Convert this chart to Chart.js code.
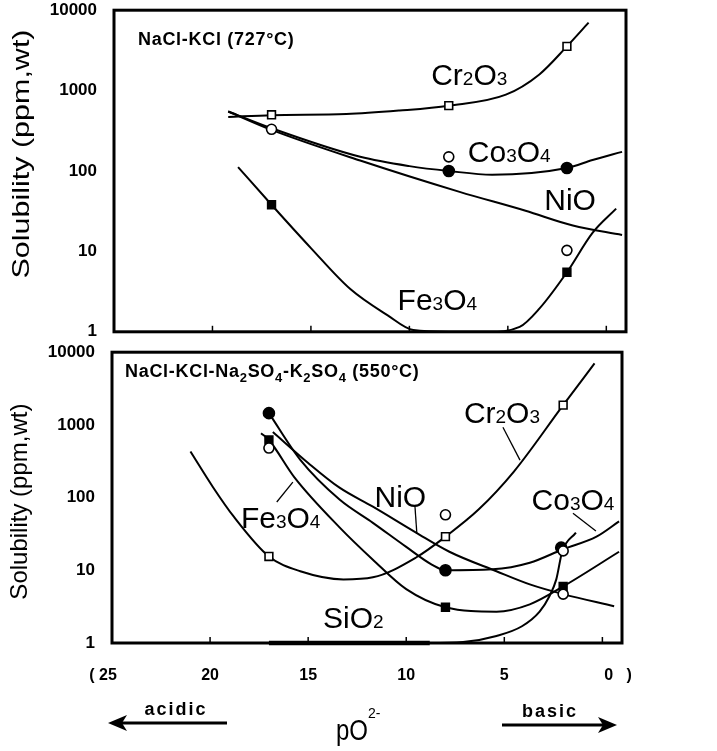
<!DOCTYPE html>
<html>
<head>
<meta charset="utf-8">
<script src="https://cdn.jsdelivr.net/npm/chart.js@4.4.0/dist/chart.umd.min.js"></script>
<style>
  html, body { margin: 0; padding: 0; background: #fff; }
  #wrap { position: relative; width: 717px; height: 751px; overflow: hidden; }
  #wrap canvas { position: absolute; left: 0; }
  #topChart { top: 0; }
  #botChart { top: 342px; }
</style>
</head>
<body>
<div id="wrap">
  <canvas id="topChart" width="717" height="342"></canvas>
  <canvas id="botChart" width="717" height="409"></canvas>
</div>
<script>
// x = pO2-, y = solubility (ppm, wt), log scale
const pOTicks = [25, 20, 15, 10, 5, 0];
const pOTickLabels = ['( 25    ', '20', '15', '10', '5', '       0   )'];
const solTicks = [1, 10, 100, 1000, 10000];

// --- NaCl-KCl (727°C) ---
const topCrX = [19.2, 17, 13.2, 10.5, 8, 5.1, 3.4, 2, 0.9];
const topCrY = [470, 495, 510, 565, 650, 890, 1590, 3550, 7000];
const topCoX = [19.2, 17, 12.5, 10, 8, 5.8, 2, 0.7, -0.8];
const topCoY = [550, 340, 150, 115, 100, 90, 109, 137, 173];
const topNiX = [19.2, 17, 12.5, 7.45, 4.1, 1.7, -0.8];
const topNiY = [550, 325, 135, 55, 32, 21, 16];
const topFeX = [18.7, 17, 15, 13, 11.1, 9.8, 8, 6, 4.4, 3.4, 2, 0.7, -0.5];
const topFeY = [112, 38, 11, 3.4, 1.6, 1.05, 1, 1, 1.15, 1.94, 5.5, 17, 34];
// measured points
const topOpenSqX = [17, 8, 2],  topOpenSqY = [500, 650, 3550];
const topFillCiX = [8, 2],      topFillCiY = [100, 109];
const topOpenCiX = [17, 8, 2],  topOpenCiY = [330, 150, 10.3];
const topFillSqX = [17, 2],     topFillSqY = [38, 5.5];

// --- NaCl-KCl-Na2SO4-K2SO4 (550°C) ---
const botCrX = [21, 19.85, 18.8, 17, 15.4, 13.2, 11.7, 9.5, 8, 6.3, 4.5, 2, 0.4];
const botCrY = [430, 139, 55, 15.5, 9.7, 7.5, 8, 15, 29, 69, 230, 1870, 7000];
const botCoX = [17, 15.4, 13.4, 11.7, 10, 8.7, 8, 5.6, 3.7, 2, 0.3, -0.85];
const botCoY = [1450, 330, 94, 45, 21, 12, 10, 10.3, 12.7, 19.5, 29, 47];
const botNiX = [16.8, 15, 13.4, 11.7, 9.5, 7.8, 5.4, 3.7, 2, -0.6];
const botNiY = [800, 300, 137, 75, 33, 18, 9.7, 6.4, 4.7, 3.2];
const botFeX = [17.4, 17, 15.7, 13.4, 11.7, 10, 8, 5.4, 3.7, 2, -0.85];
const botFeY = [770, 620, 190, 39, 14, 5.5, 3.1, 2.7, 3.4, 6, 18];
const botSiX = [17, 12, 8.8, 7.1, 5.4, 4.1, 3.2, 2.7, 2.35, 2.05, 1.35];
const botSiY = [1, 1, 1, 1.03, 1.25, 1.7, 2.7, 4.4, 7.5, 18, 33];
const botOpenSqX = [17, 8, 2],     botOpenSqY = [15.5, 29, 1870];
const botFillCiX = [17, 8, 2.1],   botFillCiY = [1450, 10, 20.5];
const botOpenCiX = [17, 8, 2, 2],  botOpenCiY = [480, 58, 18.5, 4.7];
const botFillSqX = [17, 8, 2],     botFillSqY = [620, 3.1, 6];

const FONT = '"Liberation Sans", Arial, Helvetica, sans-serif';
Chart.defaults.font.family = FONT;
Chart.defaults.color = '#000';

function pts(xs, ys) { return xs.map((x, i) => ({ x: x, y: ys[i] })); }

function curve(xs, ys, extra) {
    return Object.assign({
        data: pts(xs, ys), borderColor: '#000', borderWidth: 2, pointRadius: 0, pointHoverRadius: 0,
        fill: false, cubicInterpolationMode: 'monotone', clip: false, order: 3
    }, extra || {});
}

function marks(xs, ys, style, filled, r, order) {
    return {
        data: pts(xs, ys), showLine: false, pointStyle: style, pointRadius: r, pointHoverRadius: r,
        pointBackgroundColor: filled ? '#000' : '#fff', pointBorderColor: '#000', pointBorderWidth: 1.6,
        clip: false, order: order
    };
}

// text with "_x" subscripts
function richText(ctx, text, x, y, size, weight, subScale, subDrop, align, spacing) {
    const runs = [];
    for (let i = 0; i < text.length; i++) {
        if (text[i] === '_') { runs.push({ t: text[i + 1], sub: true }); i++; }
        else if (runs.length && !runs[runs.length - 1].sub) runs[runs.length - 1].t += text[i];
        else runs.push({ t: text[i], sub: false });
    }
    ctx.save();
    ctx.letterSpacing = (spacing || 0) + 'px';
    ctx.textBaseline = 'alphabetic';
    ctx.textAlign = 'left';
    ctx.fillStyle = '#000';
    let w = 0;
    runs.forEach(r => {
        r.f = weight + ' ' + (r.sub ? Math.round(size * subScale) : size) + 'px ' + FONT;
        ctx.font = r.f;
        r.w = ctx.measureText(r.t).width;
        w += r.w;
    });
    let cx = align === 'center' ? x - w / 2 : x;
    runs.forEach(r => {
        ctx.font = r.f;
        ctx.fillText(r.t, cx, r.sub ? y + subDrop : y);
        cx += r.w;
    });
    ctx.restore();
}

function arrow(ctx, tail, tip, y) {
    const d = tip < tail ? -1 : 1;
    ctx.save();
    ctx.strokeStyle = '#000';
    ctx.fillStyle = '#000';
    ctx.lineWidth = 3;
    ctx.beginPath();
    ctx.moveTo(tail, y);
    ctx.lineTo(tip - d * 10, y);
    ctx.stroke();
    ctx.beginPath();
    ctx.moveTo(tip, y);
    ctx.lineTo(tip - d * 19, y - 8);
    ctx.lineTo(tip - d * 14, y);
    ctx.lineTo(tip - d * 19, y + 8);
    ctx.closePath();
    ctx.fill();
    ctx.restore();
}

const decoPlugin = {
    id: 'deco',
    afterDatasetsDraw(chart, args, o) {
        const ctx = chart.ctx, a = chart.chartArea;
        const xs = chart.scales.x, ys = chart.scales.y;
        ctx.save();
        // frame and inner ticks
        ctx.strokeStyle = '#000';
        ctx.lineWidth = 3;
        ctx.strokeRect(a.left, a.top, a.right - a.left, a.bottom - a.top);
        ctx.lineWidth = 1.5;
        pOTicks.forEach(v => {
            const px = xs.getPixelForValue(v);
            ctx.beginPath();
            ctx.moveTo(px, a.bottom);
            ctx.lineTo(px, a.bottom - 6);
            ctx.stroke();
        });
        // panel title
        richText(ctx, o.title, a.left + o.titleDx, a.top + o.titleDy, 18, 'bold', 0.72, 5, 'left', 0.7);
        // species labels
        o.labels.forEach(l => {
            richText(ctx, l.t, xs.getPixelForValue(l.x), ys.getPixelForValue(l.y), 30, 'normal', 0.64, 0, 'center', 0);
        });
        // leader lines
        ctx.lineWidth = 1.3;
        o.leaders.forEach(s => {
            ctx.beginPath();
            ctx.moveTo(xs.getPixelForValue(s[0]), ys.getPixelForValue(s[1]));
            ctx.lineTo(xs.getPixelForValue(s[2]), ys.getPixelForValue(s[3]));
            ctx.stroke();
        });
        // y axis title
        ctx.save();
        ctx.translate(o.yTitleX, (a.top + a.bottom) / 2 + o.yTitleDy);
        ctx.rotate(-Math.PI / 2);
        ctx.scale(o.yTitleStretch, 1);
        ctx.font = '24px ' + FONT;
        ctx.fillStyle = '#000';
        ctx.textAlign = 'center';
        ctx.textBaseline = 'middle';
        ctx.fillText('Solubility (ppm,wt)', 0, 0);
        ctx.restore();
        // bottom notes (pO2-, acidic / basic)
        if (o.notes) {
            const y0 = a.bottom;
            ctx.fillStyle = '#000';
            ctx.font = 'bold 18px ' + FONT;
            ctx.letterSpacing = '2px';
            ctx.textAlign = 'center';
            ctx.textBaseline = 'middle';
            ctx.fillText('acidic', 176, y0 + 67);
            ctx.fillText('basic', 550, y0 + 69);
            ctx.letterSpacing = '0px';
            arrow(ctx, 227, 108, y0 + 80);
            arrow(ctx, 502, 617, y0 + 82);
            ctx.save();
            ctx.translate(336, y0 + 97);
            ctx.scale(1, 1.25);
            ctx.font = '24px ' + FONT;
            ctx.textAlign = 'left';
            ctx.textBaseline = 'alphabetic';
            ctx.fillText('pO', 0, 0);
            ctx.restore();
            ctx.font = '14px ' + FONT;
            ctx.textAlign = 'left';
            ctx.textBaseline = 'alphabetic';
            ctx.fillText('2-', 368, y0 + 75);
        }
        ctx.restore();
    }
};

function makeChart(id, datasets, cfg) {
    const pad = { left: 0, right: 0, top: 0, bottom: 0 };
    const chart = new Chart(document.getElementById(id), {
        type: 'line',
        data: { datasets: datasets },
        plugins: [decoPlugin],
        options: {
            responsive: false,
            animation: false,
            events: [],
            layout: { padding: pad },
            plugins: { legend: { display: false }, tooltip: { enabled: false }, deco: cfg.deco },
            scales: {
                x: {
                    type: 'linear', reverse: true, min: -1, max: 25,
                    grid: { display: false, drawTicks: false }, border: { display: false },
                    afterBuildTicks: s => { s.ticks = pOTicks.map(v => ({ value: v })); },
                    ticks: {
                        display: cfg.xLabels, padding: 23, maxRotation: 0, autoSkip: false,
                        font: { size: 16, weight: 'bold' },
                        callback: v => pOTickLabels[pOTicks.indexOf(v)]
                    }
                },
                y: {
                    type: 'logarithmic', min: 1, max: 10000,
                    // invisible tick marks keep the labels 17px off the frame
                    grid: { display: true, drawOnChartArea: false, drawTicks: true, tickLength: 17, color: 'rgba(0,0,0,0)' },
                    border: { display: false },
                    afterBuildTicks: s => { s.ticks = solTicks.map(v => ({ value: v })); },
                    afterFit: s => { s.width = cfg.area.left; },
                    ticks: {
                        padding: 0, autoSkip: false,
                        font: { size: 17, weight: 'bold' },
                        callback: v => solTicks.includes(v) ? String(v) : ''
                    }
                }
            }
        }
    });
    // nudge layout padding until the plot frame sits where the figure has it
    const w = cfg.area;
    for (let k = 0; k < 4; k++) {
        const a = chart.chartArea;
        pad.top += w.top - a.top;
        pad.bottom += a.bottom - w.bottom;
        pad.right += a.right - w.right;
        chart.config.options.layout = { padding: { left: pad.left, right: pad.right, top: pad.top, bottom: pad.bottom } };
        chart.update('none');
    }
    return chart;
}

makeChart('topChart', [
    marks(topOpenCiX, topOpenCiY, 'circle', false, 5, 0),
    marks(topFillCiX, topFillCiY, 'circle', true, 5.5, 1),
    marks(topOpenSqX, topOpenSqY, 'rect', false, 5.5, 1),
    marks(topFillSqX, topFillSqY, 'rect', true, 5.5, 1),
    curve(topCrX, topCrY),
    curve(topCoX, topCoY),
    curve(topNiX, topNiY),
    curve(topFeX, topFeY)
], {
    area: { left: 114, top: 12, right: 626, bottom: 333 },
    xLabels: false,
    deco: {
        title: 'NaCl-KCl (727°C)', titleDx: 24, titleDy: 34.5,
        labels: [
            { t: 'Cr_2O_3', x: 6.96, y: 1170 },
            { t: 'Co_3O_4', x: 4.93, y: 131 },
            { t: 'NiO', x: 1.84, y: 33 },
            { t: 'Fe_3O_4', x: 8.58, y: 1.88 }
        ],
        leaders: [],
        yTitleX: 22, yTitleDy: -17, yTitleStretch: 1.27,
        notes: false
    }
});

makeChart('botChart', [
    marks(botOpenCiX, botOpenCiY, 'circle', false, 5, 0),
    marks(botFillCiX, botFillCiY, 'circle', true, 5.5, 1),
    marks(botOpenSqX, botOpenSqY, 'rect', false, 5.5, 1),
    marks(botFillSqX, botFillSqY, 'rect', true, 5.5, 1),
    curve(botCrX, botCrY),
    curve(botCoX, botCoY),
    curve(botNiX, botNiY),
    curve(botFeX, botFeY),
    curve(botSiX, botSiY, { segment: { borderWidth: c => c.p1.parsed.x >= 8.8 ? 4.5 : 2 } })
], {
    area: { left: 112, top: 10, right: 622, bottom: 301 },
    xLabels: true,
    deco: {
        title: 'NaCl-KCl-Na_2SO_4-K_2SO_4 (550°C)', titleDx: 13, titleDy: 24.5,
        labels: [
            { t: 'Cr_2O_3', x: 5.12, y: 1050 },
            { t: 'Co_3O_4', x: 1.5, y: 67 },
            { t: 'NiO', x: 10.3, y: 74 },
            { t: 'Fe_3O_4', x: 16.4, y: 38 },
            { t: 'SiO_2', x: 12.7, y: 1.6 }
        ],
        leaders: [
            [16.6, 87, 15.78, 163],
            [9.56, 79, 9.46, 32.6],
            [5.07, 930, 4.2, 328],
            [1.5, 61, 0.33, 34.6]
        ],
        yTitleX: 20, yTitleDy: 4, yTitleStretch: 1.0,
        notes: true
    }
});
</script>
</body>
</html>
